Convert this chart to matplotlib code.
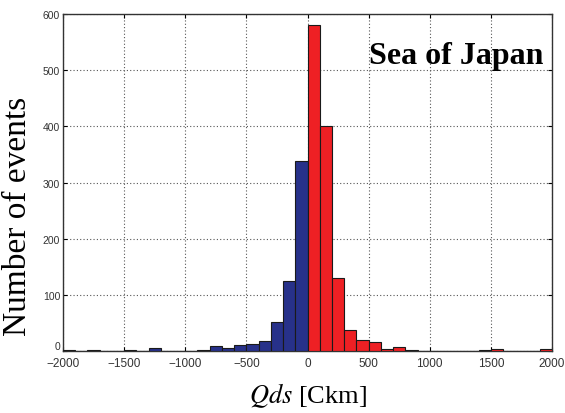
import numpy as np
import matplotlib
matplotlib.use("Agg")
import matplotlib.pyplot as plt

# histogram of Qds, 100 Ckm bins from -2000 to 2000
bin_edges = list(range(-2000, 2001, 100))
counts = [3, 0, 3, 0, 0, 3, 1, 7, 0, 0,
          0, 3, 9, 6, 11, 13, 18, 52, 126, 339,
          580, 400, 130, 39, 20, 17, 4, 8, 3, 0,
          0, 0, 1, 1, 3, 4, 0, 0, 0, 4]

x_ticks = [-2000, -1500, -1000, -500, 0, 500, 1000, 1500, 2000]
y_ticks = [0, 100, 200, 300, 400, 500, 600]

plt.rcParams["mathtext.fontset"] = "stix"

fig = plt.figure(figsize=(5.65, 4.14), dpi=100)
ax = fig.add_axes([0.1115, 0.1486, 0.8655, 0.8152])

left = np.array(bin_edges[:-1])
colors = ["#27318a" if l < 0 else "#ee2024" for l in left]
ax.bar(left, counts, width=100, align="edge", color=colors,
       edgecolor="#1a1a1a", linewidth=0.8, zorder=3)

ax.set_xlim(-2000, 2000)
ax.set_ylim(0, 600)
ax.set_xticks(x_ticks)
ax.set_yticks(y_ticks)
ax.tick_params(direction="in", top=True, right=True, length=3, pad=2)
ax.tick_params(axis="x", labelsize=8.5, pad=4)
ax.tick_params(axis="y", labelsize=7.5)
for lab in ax.get_xticklabels() + ax.get_yticklabels():
    lab.set_fontfamily("Liberation Sans")
    lab.set_color("#333333")
ax.get_yticklabels()[0].set_verticalalignment("bottom")
ax.grid(True, linestyle=(0, (1, 2)), color="#555555", linewidth=0.8, zorder=0)
for s in ax.spines.values():
    s.set_color("#333333")
    s.set_linewidth(1.0)

ax.set_ylabel("Number of events", fontsize=24, family="Liberation Serif")
ax.yaxis.set_label_coords(-0.062, 0.404)
ax.set_xlabel("$Qds$ [Ckm]", fontsize=19, family="Liberation Serif", labelpad=8)

ax.text(0.982, 0.878, "Sea of Japan", transform=ax.transAxes, ha="right",
        va="center", fontsize=23, fontweight="bold", family="Liberation Serif",
        zorder=5)

fig.savefig("out.png", dpi=100)
